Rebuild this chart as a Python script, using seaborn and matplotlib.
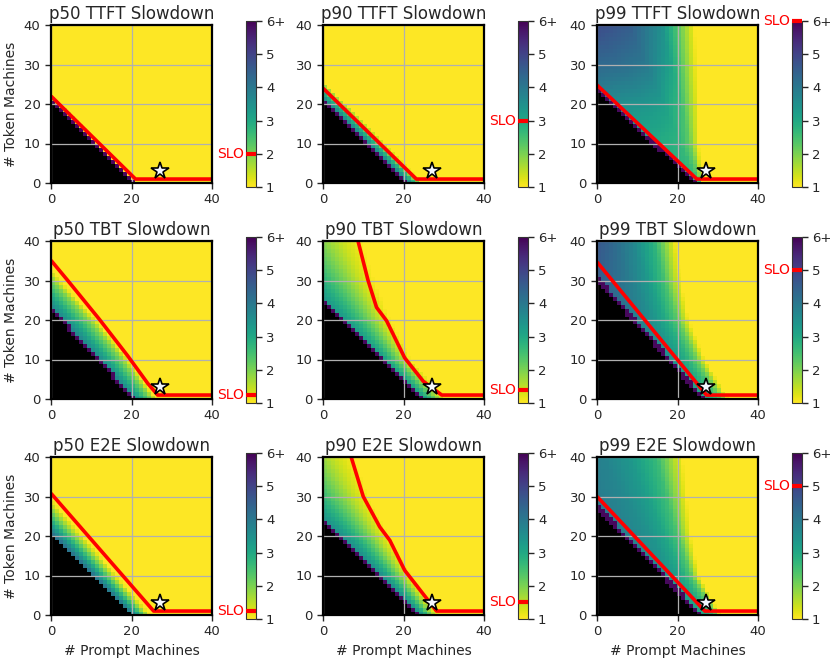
import numpy as np
import matplotlib
matplotlib.use("Agg")
import matplotlib.pyplot as plt
import matplotlib.transforms as mtransforms
import seaborn as sns

sns.set_style("ticks")
plt.rcParams['font.family'] = ['DejaVu Sans']

# ---- data ---------------------------------------------------------------
titles = ["p50 TTFT Slowdown", "p90 TTFT Slowdown", "p99 TTFT Slowdown",
          "p50 TBT Slowdown", "p90 TBT Slowdown", "p99 TBT Slowdown",
          "p50 E2E Slowdown", "p90 E2E Slowdown", "p99 E2E Slowdown"]
slo_values = [2.0, 3.0, 6.0, 1.25, 1.4, 5.0, 1.25, 1.5, 5.0]

# infeasible corner (black): intercepts on prompt / token axis
black_prompt = [20.3, 20.7, 24.3, 20.5, 24.5, 26.3, 20.3, 23.8, 25.5]
black_token = [20.6, 20.5, 23.4, 22.4, 24.0, 30.0, 20.5, 23.2, 27.0]

# prompt machines where slowdown is back to ~1x, per token row
token_rows = [0, 10, 20, 30, 40]
edge_prompt = [
    [21.8, 12.0, 2.2, -7.6, -17.4],
    [25.0, 15.4, 5.8, -3.8, -13.4],
    [26.5, 25.5, 25.5, 25.0, 24.5],
    [26.5, 19.5, 11.5, 2.5, -6.0],
    [31.0, 22.0, 17.0, 13.0, 10.0],
    [33.0, 27.0, 23.0, 21.0, 19.8],
    [25.0, 16.5, 8.1, -0.4, -8.9],
    [29.0, 22.0, 16.5, 11.5, 8.0],
    [31.0, 25.5, 23.5, 22.5, 21.5],
]
# slowdown right next to the infeasible edge, per token row
peak_slowdown = [
    [4.0, 4.0, 4.0, 4.0, 4.0],
    [4.2, 4.2, 4.2, 4.2, 4.2],
    [2.8, 3.0, 3.6, 4.5, 5.2],
    [4.0, 4.0, 4.0, 4.0, 4.0],
    [3.5, 3.5, 3.5, 3.5, 3.3],
    [3.2, 3.6, 4.0, 4.6, 5.3],
    [4.3, 4.3, 4.3, 4.3, 4.3],
    [3.8, 3.8, 3.7, 3.5, 3.3],
    [3.2, 3.6, 3.9, 4.1, 4.3],
]
# how the slowdown falls off across the band (fraction of peak)
band_steps = [0, 0.2, 0.4, 0.6, 0.8, 1.0]
band_falloff = [
    [1, 0.85, 0.7, 0.5, 0.3, 0],
    [1, 0.85, 0.68, 0.48, 0.25, 0],
    [1, 0.95, 0.92, 0.85, 0.6, 0],
    [1, 0.82, 0.66, 0.48, 0.3, 0],
    [1, 0.85, 0.65, 0.42, 0.18, 0],
    [1, 0.9, 0.8, 0.65, 0.42, 0],
    [1, 0.8, 0.6, 0.4, 0.2, 0],
    [1, 0.85, 0.65, 0.42, 0.18, 0],
    [1, 0.92, 0.85, 0.72, 0.5, 0],
]
rim_width = [0.7, 0.7, 0.8, 0.7, 0.8, 0.9, 0.0, 0.8, 0.9]

# min token machines meeting the SLO, per prompt machines (red line)
slo_prompt = [
    [0, 21, 40],
    [0, 23.2, 40],
    [0, 24.8, 40],
    [0, 4, 12, 19, 24, 26.5, 40],
    [8.7, 11.2, 13.3, 15.8, 20.3, 24.9, 29.5, 40],
    [0, 27.2, 40],
    [0, 25.5, 40],
    [7, 10, 14.1, 16.6, 20.3, 24.9, 28.2, 40],
    [0, 26.8, 40],
]
slo_token = [
    [22, 1, 1],
    [24, 1, 1],
    [24.8, 1, 1],
    [35.1, 30.2, 20.2, 11, 4, 1, 1],
    [40, 30, 23.2, 19.8, 10.4, 4.5, 1, 1],
    [34.7, 1, 1],
    [30.8, 1, 1],
    [40, 30, 22.3, 18.9, 11.3, 5.3, 1, 1],
    [30, 1, 1],
]
chosen = (27, 3)

# ---- build the grids (one cell per machine count) -------------------------
N = 40
scale = N / 40
centers = (np.arange(N) + 0.5) / scale
X, Y = np.meshgrid(centers, centers)


def slowdown_grid(k):
    bx, by = black_prompt[k], black_token[k]
    dist = (X / bx + Y / by - 1) / np.hypot(1 / bx, 1 / by)
    xb = bx * (1 - Y / by)
    xe = np.interp(Y, token_rows, edge_prompt[k])
    pk = np.interp(Y, token_rows, peak_slowdown[k])
    span = xe - xb
    t = np.where(span > 0, (X - xb) / np.where(span > 0, span, 1), 1.0)
    t = np.clip(t, 0, 1)
    val = 1 + (pk - 1) * np.interp(t, band_steps, band_falloff[k])
    val[(dist >= 0) & (dist < rim_width[k])] = 5.9
    val[dist < 0] = 0.0   # infeasible -> drawn black (under colour)
    return val


cmap = plt.get_cmap("viridis_r").copy()
cmap.set_under("black")

fig = plt.figure(figsize=(8.3, 6.61), dpi=100)
W, H = 830, 661
ax_left = [51, 323, 597]
ax_top = [25, 241, 457]
ax_w, ax_h = 161, 158

for k in range(9):
    r, c = divmod(k, 3)
    ax = fig.add_axes([ax_left[c] / W, 1 - (ax_top[r] + ax_h) / H, ax_w / W, ax_h / H])
    cax = fig.add_axes([(ax_left[c] + 195) / W, 1 - (ax_top[r] - 4 + ax_h + 8) / H,
                        9.5 / W, (ax_h + 8) / H])
    sns.heatmap(slowdown_grid(k), ax=ax, cmap=cmap, vmin=1, vmax=6,
                cbar_ax=cax, xticklabels=False, yticklabels=False, linewidths=0)
    mesh = ax.collections[0]
    mesh.set_edgecolor("none")
    mesh.set_linewidth(0)
    mesh.set_antialiased(False)
    mesh.set_snap(False)
    ax.set_facecolor("black")
    ax.set_xlim(0, N)
    ax.set_ylim(0, N)
    ax.set_xticks([v * scale for v in [0, 20, 40]])
    ax.set_xticklabels(["0", "20", "40"])
    ax.set_yticks([v * scale for v in [0, 10, 20, 30, 40]])
    ax.set_yticklabels(["0", "10", "20", "30", "40"], rotation=0)
    ax.tick_params(direction="out", length=4, width=1, labelsize=9.5)
    ax.grid(True, color="#b0b0b0", lw=0.9)
    ax.set_axisbelow(False)
    for sp in ax.spines.values():
        sp.set_visible(True)
        sp.set_color("black")
        sp.set_linewidth(1.6)
        sp.set_zorder(6)

    ax.plot(np.array(slo_prompt[k]) * scale, np.array(slo_token[k]) * scale,
            color="red", lw=2.6, zorder=4, solid_capstyle="butt")
    ax.plot(chosen[0] * scale, chosen[1] * scale, marker="*", ms=13,
            mfc="#f4f8ff", mec="black", mew=1.2, zorder=7, clip_on=False)

    ax.set_title(titles[k], fontsize=12, pad=4)
    if c == 0:
        ax.set_ylabel("# Token Machines", fontsize=10)
    if r == 2:
        ax.set_xlabel("# Prompt Machines", fontsize=10)

    cbar = mesh.colorbar
    cbar.set_ticks([1, 2, 3, 4, 5, 6])
    cbar.set_ticklabels(["1", "2", "3", "4", "5", "6+"])
    cbar.outline.set_linewidth(0.8)
    cbar.outline.set_edgecolor("#333333")
    cax.tick_params(labelsize=9.5, length=4, width=1)
    slo = slo_values[k]
    cax.axhline(slo, color="red", lw=3, clip_on=False, zorder=5,
                solid_capstyle="butt")
    trans = mtransforms.blended_transform_factory(cax.transAxes, cax.transData)
    cax.text(-0.2, slo, "SLO", transform=trans, ha="right", va="center",
             color="red", fontsize=10)

fig.savefig("out.png", dpi=100)
